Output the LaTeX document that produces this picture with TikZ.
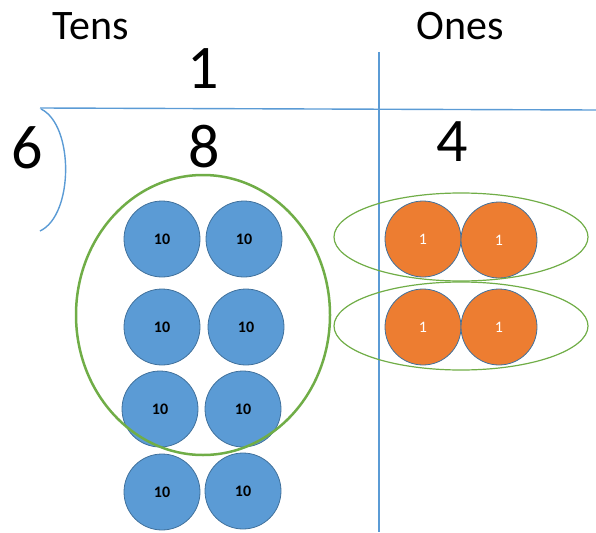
\documentclass[tikz,border=0pt]{standalone}
\usepackage{fontspec}
\setmainfont{Carlito}
\definecolor{lineblue}{HTML}{5B9BD5}
\definecolor{tenblue}{HTML}{5B9BD5}
\definecolor{rimblue}{HTML}{41719C}
\definecolor{oneorange}{HTML}{ED7D31}
\definecolor{groupgreen}{HTML}{70AD47}
\tikzset{
  ten/.style={circle, fill=tenblue, draw=rimblue, line width=0.8pt, minimum size=76pt, inner sep=0pt,
    font=\fontsize{16}{16}\selectfont\bfseries, text=black},
  one/.style={circle, fill=oneorange, draw=rimblue, line width=0.8pt, minimum size=76pt, inner sep=0pt,
    font=\fontsize{16}{16}\selectfont, text=white},
  head/.style={font=\fontsize{42}{42}\selectfont, inner sep=0pt},
  digit/.style={font=\fontsize{62}{62}\selectfont, inner sep=0pt},
  rule/.style={draw=lineblue, line width=1.4pt},
}
\begin{document}
\begin{tikzpicture}[x=1pt,y=-1pt]
\useasboundingbox (0,0) rectangle (596,532);
% headings
\node[head] (tens) at (91,26) {Tens};
\node[head] (ones) at (460,26) {Ones};
% division frame
\coordinate (hl) at (40,108);
\coordinate (hr) at (596,110);
\coordinate (vt) at (379,52);
\coordinate (vb) at (379,532);
\coordinate (bt) at (41,109);
\coordinate (bb) at (40,231);
\draw[rule] (hl) -- (hr);
\draw[rule] (vt) -- (vb);
\draw[rule] (bt) .. controls (74,125) and (74,215) .. (bb);
% digits
\node[digit] (q) at (203,69) {1};
\node[digit] (d) at (27,148) {6};
\node[digit] (t) at (204,147) {8};
\node[digit] (o) at (452,142) {4};
% tens circles
\node[ten] (t1) at (162,239) {10};
\node[ten] (t2) at (244,239) {10};
\node[ten] (t3) at (162,327) {10};
\node[ten] (t4) at (246,327) {10};
\node[ten] (t5) at (160,409) {10};
\node[ten] (t6) at (243,409) {10};
\node[ten] (t7) at (162,492) {10};
\node[ten] (t8) at (243,491) {10};
% ones circles
\node[one] (o1) at (423,239) {1};
\node[one] (o2) at (499,240) {1};
\node[one] (o3) at (423,327) {1};
\node[one] (o4) at (499,327) {1};
% grouping ellipses
\draw[groupgreen, line width=2.5pt] (203,315) ellipse [x radius=127, y radius=140];
\draw[groupgreen, line width=1.2pt] (461,237) ellipse [x radius=127, y radius=44];
\draw[groupgreen, line width=1.2pt] (461,326) ellipse [x radius=127, y radius=44];
\end{tikzpicture}
\end{document}
